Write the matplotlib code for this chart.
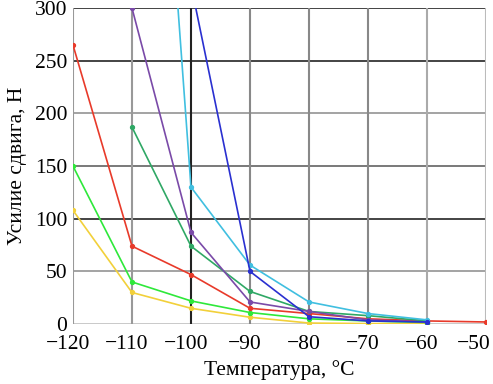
import numpy as np
import matplotlib
matplotlib.use("Agg")
import matplotlib.pyplot as plt
from matplotlib.transforms import ScaledTranslation

plt.rcParams['font.family'] = ['Liberation Serif', 'DejaVu Serif']
plt.rcParams['font.size'] = 15.5
plt.rcParams['axes.unicode_minus'] = True

# Data
temps = [-120, -110, -100, -90, -80, -70, -60, -50]

red = [265, 74, 47, 15, 10, 5, 3, 2]
yellow = [108, 30, 15, 6.5, 1, 0.5, 0.5, None]
lime = [150, 40, 22, 11, 5, 3, 1.5, None]
seagreen = [None, 187, 74, 31, 12, 8, 3, None]
purple = [None, 300, 87, 21, 12, 4, 2, None]
cyan = [None, 900, 130, 56, 21, 10, 4, None]
blue = [None, None, 322, 50, 7, 3, 2, None]

series = [
    (yellow, '#f2d03a'),
    (lime, '#2ee83a'),
    (red, '#e83a2a'),
    (seagreen, '#2fa865'),
    (purple, '#7a4aa8'),
    (cyan, '#40bfe0'),
    (blue, '#2a30d0'),
]

fig = plt.figure(figsize=(4.93, 3.84), dpi=100)
ax = fig.add_axes([0.148, 0.156, 0.838, 0.823])

# grid lines with alternating shades like the original
hgrid = {300: '#111111', 250: '#111111', 200: '#8a8a8a', 150: '#555555',
         100: '#111111', 50: '#8a8a8a', 0: '#bbbbbb'}
vgrid = {-120: '#999999', -110: '#999999', -100: '#222222', -90: '#888888',
         -80: '#888888', -70: '#888888', -60: '#aaaaaa', -50: '#bbbbbb'}
for yv, c in hgrid.items():
    ax.axhline(yv, color=c, lw=1.1, zorder=0)
for xv, c in vgrid.items():
    ax.axvline(xv, color=c, lw=1.5, zorder=0)

for vals, col in series:
    xs = [t for t, v in zip(temps, vals) if v is not None]
    ys = [v for v in vals if v is not None]
    ax.plot(xs, ys, color=col, lw=1.2, marker='o', ms=2.8, zorder=3)

ax.set_xlim(-120, -50)
ax.set_ylim(0, 300)
ax.set_xticks(temps)
ax.set_yticks([0, 50, 100, 150, 200, 250, 300])
ax.tick_params(axis='x', length=0, pad=8)
ax.tick_params(axis='y', length=0, pad=4)
for s in ax.spines.values():
    s.set_visible(False)

# nudge x tick labels a little left, keep the last one inside the figure
xlabels = ax.get_xticklabels()
for lab in xlabels[:-1]:
    lab.set_transform(lab.get_transform() + ScaledTranslation(-5 / 100, 0, fig.dpi_scale_trans))
xlabels[-1].set_horizontalalignment('right')
xlabels[-1].set_transform(xlabels[-1].get_transform() + ScaledTranslation(5 / 100, 0, fig.dpi_scale_trans))

ax.set_xlabel('Температура, °C', labelpad=4)
ax.set_ylabel('Усилие сдвига, Н', labelpad=6)

fig.savefig('out.png', dpi=100)
